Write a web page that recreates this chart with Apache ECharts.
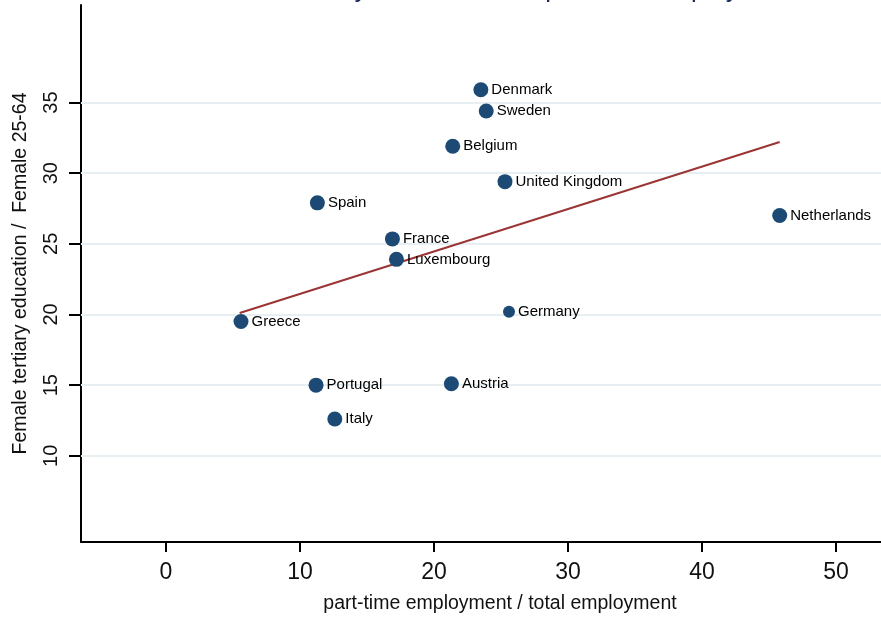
<!DOCTYPE html>
<html>
<head>
<meta charset="utf-8">
<script src="https://cdn.jsdelivr.net/npm/echarts@6/dist/echarts.min.js"></script>
<style>
html,body{margin:0;padding:0;background:#fff;}
#chart{width:881px;height:619px;}
</style>
</head>
<body>
<div id="chart"></div>
<script>
const countries = ['Denmark','Sweden','Belgium','United Kingdom','Spain','France','Luxembourg','Netherlands','Greece','Germany','Portugal','Austria','Italy'];
const partTime = [23.5, 23.9, 21.4, 25.3, 11.3, 16.9, 17.2, 45.8, 5.6, 25.6, 11.2, 21.3, 12.6];
const tertiary = [35.9, 34.4, 31.9, 29.4, 27.9, 25.35, 23.9, 27.0, 19.5, 20.2, 15.0, 15.1, 12.6];
const fitX = [5.5, 45.8];
const fitY = [20.1, 32.2];
const xTicks = [0, 10, 20, 30, 40, 50];
const yTicks = [10, 15, 20, 25, 30, 35];

const chart = echarts.init(document.getElementById('chart'), null, {renderer: 'canvas'});
const FONT = 'Liberation Sans';

const scatterData = countries.map((c, i) => ({
  name: c,
  value: [partTime[i], tertiary[i]],
  symbolSize: c === 'Germany' ? 12 : 15
}));

chart.setOption({
  animation: false,
  backgroundColor: '#ffffff',
  graphic: [{
    type: 'text',
    left: 194,
    top: -23,
    z: 10,
    style: {
      text: 'Female tertiary education and part-time employment',
      font: '26px "Liberation Sans"',
      fill: '#1c2b5e'
    }
  }],
  grid: {left: 81, right: 0, top: 5, bottom: 76, containLabel: false},
  xAxis: {
    type: 'value',
    min: -6.34,
    max: 53.36,
    name: 'part-time employment / total employment',
    nameLocation: 'middle',
    nameGap: 52,
    nameTextStyle: {fontFamily: FONT, fontSize: 19.5, color: '#111', padding: [0, 0, 0, 38]},
    axisLine: {show: true, onZero: false, lineStyle: {color: '#000', width: 2}},
    axisTick: {show: true, customValues: xTicks, length: 10, lineStyle: {color: '#000', width: 2}},
    axisLabel: {customValues: xTicks, fontFamily: FONT, fontSize: 23, color: '#111', margin: 19},
    splitLine: {show: false}
  },
  yAxis: {
    type: 'value',
    min: 3.9,
    max: 41.9,
    name: 'Female tertiary education /  Female 25-64',
    nameLocation: 'middle',
    nameGap: 50,
    nameRotate: 90,
    nameTextStyle: {fontFamily: FONT, fontSize: 19.5, color: '#111'},
    axisLine: {show: true, onZero: false, lineStyle: {color: '#000', width: 2}},
    axisTick: {show: true, customValues: yTicks, length: 12, lineStyle: {color: '#000', width: 2}},
    axisLabel: {customValues: yTicks, rotate: 90, fontFamily: FONT, fontSize: 20, color: '#111', margin: 20},
    splitLine: {show: false}
  },
  series: [
    {
      type: 'line',
      data: [],
      z: 1,
      silent: true,
      markLine: {
        silent: true,
        symbol: 'none',
        z: 1,
        label: {show: false},
        lineStyle: {color: '#e7eff2', width: 2, type: 'solid'},
        data: yTicks.map(v => ({yAxis: v}))
      }
    },
    {
      type: 'line',
      data: fitX.map((x, i) => [x, fitY[i]]),
      symbol: 'none',
      lineStyle: {color: '#9b3535', width: 2},
      z: 3
    },
    {
      type: 'scatter',
      data: scatterData,
      itemStyle: {color: '#1d4a75', opacity: 1},
      z: 4,
      label: {
        show: true,
        position: 'right',
        distance: 3,
        formatter: p => p.name,
        fontFamily: FONT,
        fontSize: 15,
        color: '#000'
      }
    }
  ]
});
</script>
</body>
</html>
